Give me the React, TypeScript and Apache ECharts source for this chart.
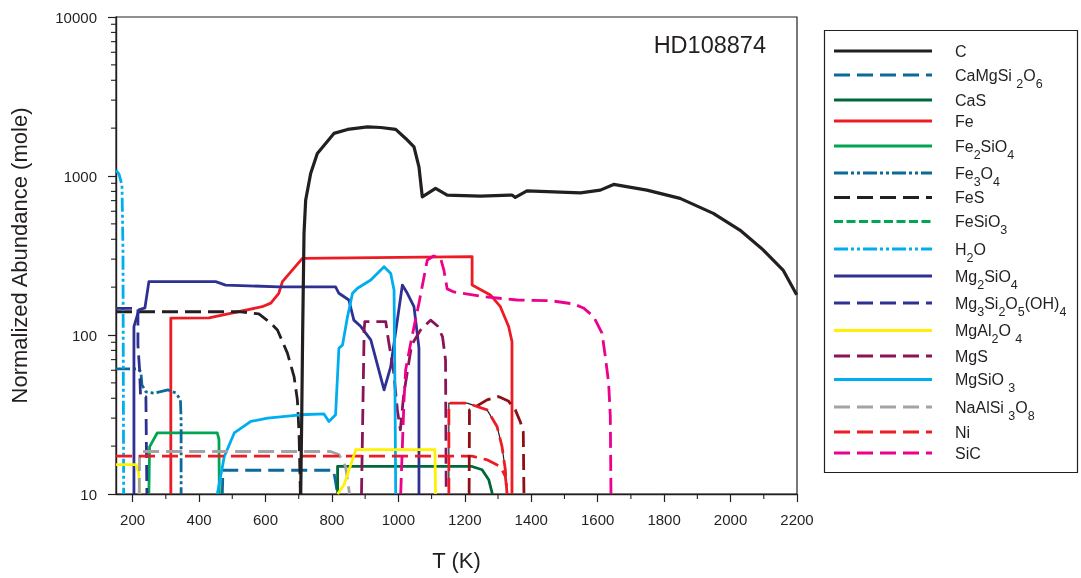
import React, { useEffect, useRef } from 'react';
import * as echarts from 'echarts';

const X_MIN = 150;
const X_MAX = 2200;
const xMajorTicks = [200, 400, 600, 800, 1000, 1200, 1400, 1600, 1800, 2000, 2200];
const xMinorTicks = [300, 500, 700, 900, 1100, 1300, 1500, 1700, 1900, 2100];
const yMinorTicks = [20, 30, 40, 50, 60, 70, 80, 90, 200, 300, 400, 500, 600, 700, 800, 900, 2000, 3000, 4000, 5000, 6000, 7000, 8000, 9000];

const legendNames = ['C', 'CaMgSi2O6', 'CaS', 'Fe', 'Fe2SiO4', 'Fe3O4', 'FeS', 'FeSiO3', 'H2O', 'Mg2SiO4', 'Mg3Si2O5(OH)4', 'MgAl2O4', 'MgS', 'MgSiO3', 'NaAlSi3O8', 'Ni', 'SiC'];
const legendDisplay: Record<string, string> = {
  'CaMgSi2O6': 'CaMgSi 2O6',
  'MgAl2O4': 'MgAl2O 4',
  'MgSiO3': 'MgSiO 3',
  'NaAlSi3O8': 'NaAlSi 3O8',
};

const C_data = [[706, 10], [709, 29.3], [712, 108], [716, 436], [721, 706], [736, 1038], [756, 1387], [806, 1853], [847, 1963], [907, 2038], [947, 2019], [992, 1963], [1022, 1722], [1047, 1525], [1062, 1142], [1072, 740], [1112, 835], [1147, 759], [1247, 748], [1342, 759], [1352, 734], [1387, 807], [1548, 784], [1608, 815], [1648, 885], [1748, 815], [1848, 723], [1948, 582], [2028, 457], [2098, 343], [2158, 256], [2199, 179]];
const CaMgSi2O6_data = [[470, 10], [472, 14.1], [805, 14.1], [817, 10]];
const CaS_data = [[817, 10], [817, 14.9], [1222, 14.9], [1252, 14.2], [1272, 12.3], [1283, 10]];
const Fe_data = [[315, 10], [315, 127.5], [430, 128], [590, 150.7], [616, 158.6], [640, 183], [651, 216.5], [711, 303], [1222, 311], [1222, 206], [1277, 178.6], [1307, 150.7], [1332, 113], [1342, 90.9], [1342, 10]];
const Fe2SiO4_data = [[249, 10], [251, 19.8], [274, 24.2], [455, 24.2], [460, 22], [461, 10]];
const Fe3O4_data = [[150, 61.2], [216, 61.2], [225, 58.7], [228, 48.6], [240, 43.9], [265, 43.1], [306, 45.2], [331, 43.1], [344, 39.1], [346, 29.3], [346, 10]];
const FeS_data = [[150, 140], [526, 140], [580, 135.7], [616, 118.6], [636, 107.6], [666, 76.9], [686, 54.8], [696, 39.1], [701, 24.2], [705, 10]];
const FeS_hi_data = [[1152, 10], [1152, 37.3], [1207, 37.3], [1267, 33.8], [1297, 26.6], [1312, 19.9], [1322, 14.2], [1327, 10]];
const FeSiO3_data: number[][] = [];
const H2O_data = [[150, 1089], [159, 1028], [168, 877], [171, 342], [173, 10]];
const Mg2SiO4_data = [[204, 10], [204, 113], [219, 144], [237, 148], [249, 216.5], [450, 216.5], [480, 206], [640, 201], [811, 201], [821, 183], [851, 166], [866, 124], [887, 113], [917, 93.1], [957, 45.2], [977, 63.3], [1012, 206], [1027, 183], [1047, 150.7], [1062, 82.6], [1062, 10]];
const Serp_data = [[150, 147], [216, 147], [216, 86.7], [221, 60.4], [224, 40.8], [240, 40.8], [243, 10]];
const MgAl2O4_lo_data = [[150, 15.3], [210, 15.3], [218, 13.8], [222, 10]];
const MgAl2O4_hi_data = [[817, 10], [836, 11.4], [857, 15.3], [872, 19], [1110, 19], [1112, 10]];
const MgS_lo_data = [[889, 10], [892, 24.3], [897, 107.7], [899, 121.4], [962, 121.4], [970, 93.1], [985, 60.4], [997, 33.8], [1006, 25.3], [1016, 42], [1040, 86.7], [1067, 107.7], [1097, 124], [1118, 114], [1133, 97.3], [1142, 69.8], [1144, 10]];
const MgS_hi_data = [[1213, 10], [1214, 33.8], [1227, 34.8], [1267, 39.1], [1301, 41], [1331, 38.5], [1352, 33.8], [1367, 28.5], [1376, 24.6], [1378, 10]];
const MgSiO3_data = [[455, 10], [476, 17.2], [506, 24.2], [556, 28.6], [606, 30], [706, 31.5], [776, 31.9], [791, 28.6], [811, 31.5], [821, 82.6], [832, 86.7], [847, 130.5], [862, 183], [877, 196.8], [917, 221.8], [957, 269], [977, 244], [987, 192], [990, 39], [992, 10]];
const NaAlSi3O8_data = [[220, 10], [221, 18.5], [796, 18.5], [821, 17.7], [841, 14.9], [853, 10]];
const Ni_lo_data = [[150, 17.3], [1222, 17.3], [1267, 16.4], [1307, 14.9], [1322, 12.9], [1328, 10]];
const Ni_hi_data = [[1152, 10], [1152, 37.3], [1207, 37.3], [1267, 33.8], [1297, 26.6], [1312, 19.9], [1322, 14.2], [1327, 10]];
const SiC_data = [[1007, 10], [1012, 19.8], [1017, 39.1], [1022, 60.4], [1037, 88.8], [1062, 158.5], [1087, 296], [1106, 314], [1127, 304], [1137, 256], [1147, 195], [1167, 186.6], [1257, 174], [1357, 166], [1457, 164.5], [1527, 156.8], [1557, 148], [1588, 130.5], [1613, 102.6], [1623, 73.2], [1633, 49.8], [1638, 30.7], [1640, 10]];

const INK = '#231f20';
const FONT = "'Liberation Sans', Arial, sans-serif";
const DASH = [16, 7];
const DASHDOTDOT = [14, 3, 3, 3, 3, 3];
const SHORTDASH = [9, 3.5];

const styles: Record<string, { color: string; type: any }> = {
  'C': { color: INK, type: 'solid' },
  'CaMgSi2O6': { color: '#0b6a98', type: DASH },
  'CaS': { color: '#006838', type: 'solid' },
  'Fe': { color: '#ed1c24', type: 'solid' },
  'Fe2SiO4': { color: '#00a651', type: 'solid' },
  'Fe3O4': { color: '#0b6a98', type: DASHDOTDOT },
  'FeS': { color: INK, type: DASH },
  'FeSiO3': { color: '#00a651', type: SHORTDASH },
  'H2O': { color: '#00aeef', type: DASHDOTDOT },
  'Mg2SiO4': { color: '#2e3192', type: 'solid' },
  'Mg3Si2O5(OH)4': { color: '#2e3192', type: DASH },
  'MgAl2O4': { color: '#fff200', type: 'solid' },
  'MgS': { color: '#8a1457', type: DASH },
  'MgSiO3': { color: '#00aeef', type: 'solid' },
  'NaAlSi3O8': { color: '#a3a3a3', type: DASH },
  'Ni': { color: '#ed1c24', type: DASH },
  'SiC': { color: '#ec008c', type: DASH },
};
const MGS_HOT = '#8e0f14';

function mk(name: string, data: number[][], width = 2.8, z = 2, color?: string, type?: any) {
  const st = styles[name];
  const c = color ?? st.color;
  return {
    type: 'line',
    name,
    data,
    symbol: 'none',
    showSymbol: false,
    z,
    lineStyle: { color: c, width, type: type ?? st.type, join: 'round' },
    itemStyle: { color: c },
    emphasis: { disabled: true },
  };
}

const series = [
  mk('C', C_data, 3.2, 5),
  mk('CaMgSi2O6', CaMgSi2O6_data),
  mk('CaS', CaS_data),
  mk('Fe', Fe_data),
  mk('Fe2SiO4', Fe2SiO4_data),
  mk('Fe3O4', Fe3O4_data),
  mk('FeS', FeS_data),
  mk('FeSiO3', FeSiO3_data),
  mk('H2O', H2O_data),
  mk('Mg2SiO4', Mg2SiO4_data),
  mk('Mg3Si2O5(OH)4', Serp_data),
  mk('MgAl2O4', MgAl2O4_lo_data),
  mk('MgS', MgS_lo_data),
  mk('MgSiO3', MgSiO3_data),
  mk('NaAlSi3O8', NaAlSi3O8_data),
  mk('Ni', Ni_lo_data),
  mk('SiC', SiC_data),
  mk('MgAl2O4', MgAl2O4_hi_data),
  mk('MgS', MgS_hi_data, 2.8, 2, MGS_HOT),
  mk('FeS', FeS_hi_data, 1.2, 1, INK, 'solid'),
  mk('Ni', Ni_hi_data, 2.8, 3),
];

function richName(name: string) {
  const disp = legendDisplay[name] ?? name;
  const parts = disp.match(/\d+|[^\d]+/g) || [];
  return parts.map((p) => (/^\d+$/.test(p) ? `{s|${p}}` : `{n|${p}}`)).join('');
}

// legend layout (box + row centres)
const LEG_BOX = { x: 824.5, y: 30.5, width: 253, height: 442 };
const LEG_ROWS = [51, 75, 100, 121, 146, 173, 197.5, 221.5, 249, 276, 303, 330.5, 356, 379.5, 407, 432, 453];
const LEG_LINE_X = [834, 932];
const LEG_TEXT_X = 955;

const option: any = {
  animation: false,
  textStyle: { fontFamily: FONT, color: INK },
  grid: { left: 115, right: 284, top: 17, bottom: 84, show: true, borderColor: INK, borderWidth: 1.2, backgroundColor: 'transparent' },
  xAxis: {
    type: 'value',
    min: X_MIN,
    max: X_MAX,
    name: 'T (K)',
    nameLocation: 'middle',
    nameGap: 55,
    nameTextStyle: { fontSize: 22, color: INK, fontFamily: FONT },
    axisLine: { show: true, lineStyle: { color: INK, width: 1.4 } },
    axisTick: { show: true, length: 8, customValues: xMajorTicks, lineStyle: { color: INK, width: 1.2 } },
    axisLabel: { customValues: xMajorTicks, fontSize: 15, color: INK, margin: 18, fontFamily: FONT, formatter: (v: number) => String(Math.round(v)) },
    splitLine: { show: false },
  },
  yAxis: {
    type: 'log',
    logBase: 10,
    min: 10,
    max: 10000,
    name: 'Normalized Abundance (mole)',
    nameLocation: 'middle',
    nameGap: 86,
    nameRotate: 90,
    nameTextStyle: { fontSize: 22, color: INK, fontFamily: FONT },
    axisLine: { show: true, lineStyle: { color: INK, width: 1.4 } },
    axisTick: { show: true, length: 8, lineStyle: { color: INK, width: 1.2 } },
    axisLabel: { fontSize: 15, color: INK, margin: 19, fontFamily: FONT, formatter: (v: number) => String(Math.round(v)) },
    splitLine: { show: false },
  },
  series,
};

export default function App() {
  const ref = useRef<HTMLDivElement>(null);
  useEffect(() => {
    const el = ref.current!;
    const chart = echarts.init(el, null, { renderer: 'svg' });
    chart.setOption(option);
    const axisX = chart.convertToPixel({ xAxisIndex: 0 }, X_MIN) as number;
    const axisY = chart.convertToPixel({ yAxisIndex: 0 }, 10) as number;
    const elements: any[] = [];
    yMinorTicks.forEach((v, i) => {
      const p = chart.convertToPixel({ yAxisIndex: 0 }, v) as number;
      elements.push({ id: 'ym' + i, type: 'line', shape: { x1: axisX - 5, y1: p, x2: axisX, y2: p }, style: { stroke: INK, lineWidth: 1.1 }, silent: true });
    });
    xMinorTicks.forEach((v, i) => {
      const p = chart.convertToPixel({ xAxisIndex: 0 }, v) as number;
      elements.push({ id: 'xm' + i, type: 'line', shape: { x1: p, y1: axisY, x2: p, y2: axisY + 5 }, style: { stroke: INK, lineWidth: 1.1 }, silent: true });
    });
    elements.push({ id: 'box', type: 'rect', shape: { ...LEG_BOX }, style: { fill: 'none', stroke: INK, lineWidth: 1.2 }, silent: true, z: 0 });
    legendNames.forEach((name, i) => {
      const st = styles[name];
      const y = LEG_ROWS[i];
      elements.push({
        id: 'll' + i,
        type: 'line',
        silent: true,
        shape: { x1: LEG_LINE_X[0], y1: y, x2: LEG_LINE_X[1], y2: y },
        style: { stroke: st.color, lineWidth: 3, lineDash: Array.isArray(st.type) ? st.type : null, lineCap: 'butt' },
      });
      elements.push({
        id: 'lt' + i,
        type: 'text',
        silent: true,
        x: LEG_TEXT_X,
        y,
        style: {
          text: richName(name),
          fill: INK,
          verticalAlign: 'middle',
          align: 'left',
          fontFamily: FONT,
          fontSize: 16,
          rich: {
            n: { fontSize: 16, lineHeight: 30, verticalAlign: 'middle', fill: INK, fontFamily: FONT },
            s: { fontSize: 12.5, lineHeight: 30, verticalAlign: 'bottom', fill: INK, fontFamily: FONT },
          },
        },
      });
    });
    elements.push({ id: 'title', type: 'text', x: 766, y: 45, style: { text: 'HD108874', fontSize: 23.5, fontFamily: FONT, fill: INK, align: 'right', verticalAlign: 'middle' }, silent: true });
    chart.setOption({ graphic: { elements } });
    return () => chart.dispose();
  }, []);
  return <div ref={ref} style={{ position: 'fixed', left: 0, top: 0, width: 1081, height: 578 }} />;
}
